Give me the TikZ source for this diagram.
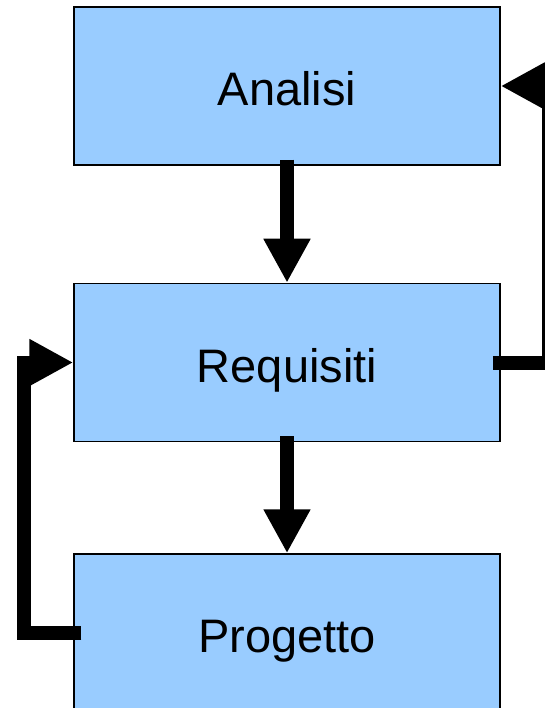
\documentclass[tikz,border=0pt]{standalone}
\usepackage{fontspec}
\setmainfont{Liberation Sans}
\usetikzlibrary{positioning,arrows.meta}
\definecolor{boxblue}{HTML}{99CCFF}
\begin{document}
\begin{tikzpicture}[x=1pt,y=-1pt,
    fase/.style={draw=black,line width=1.5pt,fill=boxblue,
        minimum width=426pt,minimum height=158pt,inner sep=0pt,
        text height=39pt,text depth=0pt,font=\fontsize{47}{47}\selectfont},
    freccia/.style={line width=14pt,-{Triangle[width=44pt,length=44pt]}}]
    \useasboundingbox (0,0) rectangle (544,708);
    \node[fase] (analisi) at (287,86) {Analisi};
    \node[fase,below=117pt of analisi] (requisiti) {Requisiti};
    \node[fase,below=111pt of requisiti] (progetto) {Progetto};
    \draw[freccia] ([yshift=6pt]analisi.south) -- (requisiti.north);
    \draw[freccia] ([yshift=6pt]requisiti.south) -- (progetto.north);
    % ritorni
    \draw[freccia] ([xshift=-8pt]requisiti.east) -- ++(56,0) |- (analisi.east);
    \draw[freccia] ([xshift=8pt]progetto.west) -- ++(-57,0) |- (requisiti.west);
\end{tikzpicture}
\end{document}
